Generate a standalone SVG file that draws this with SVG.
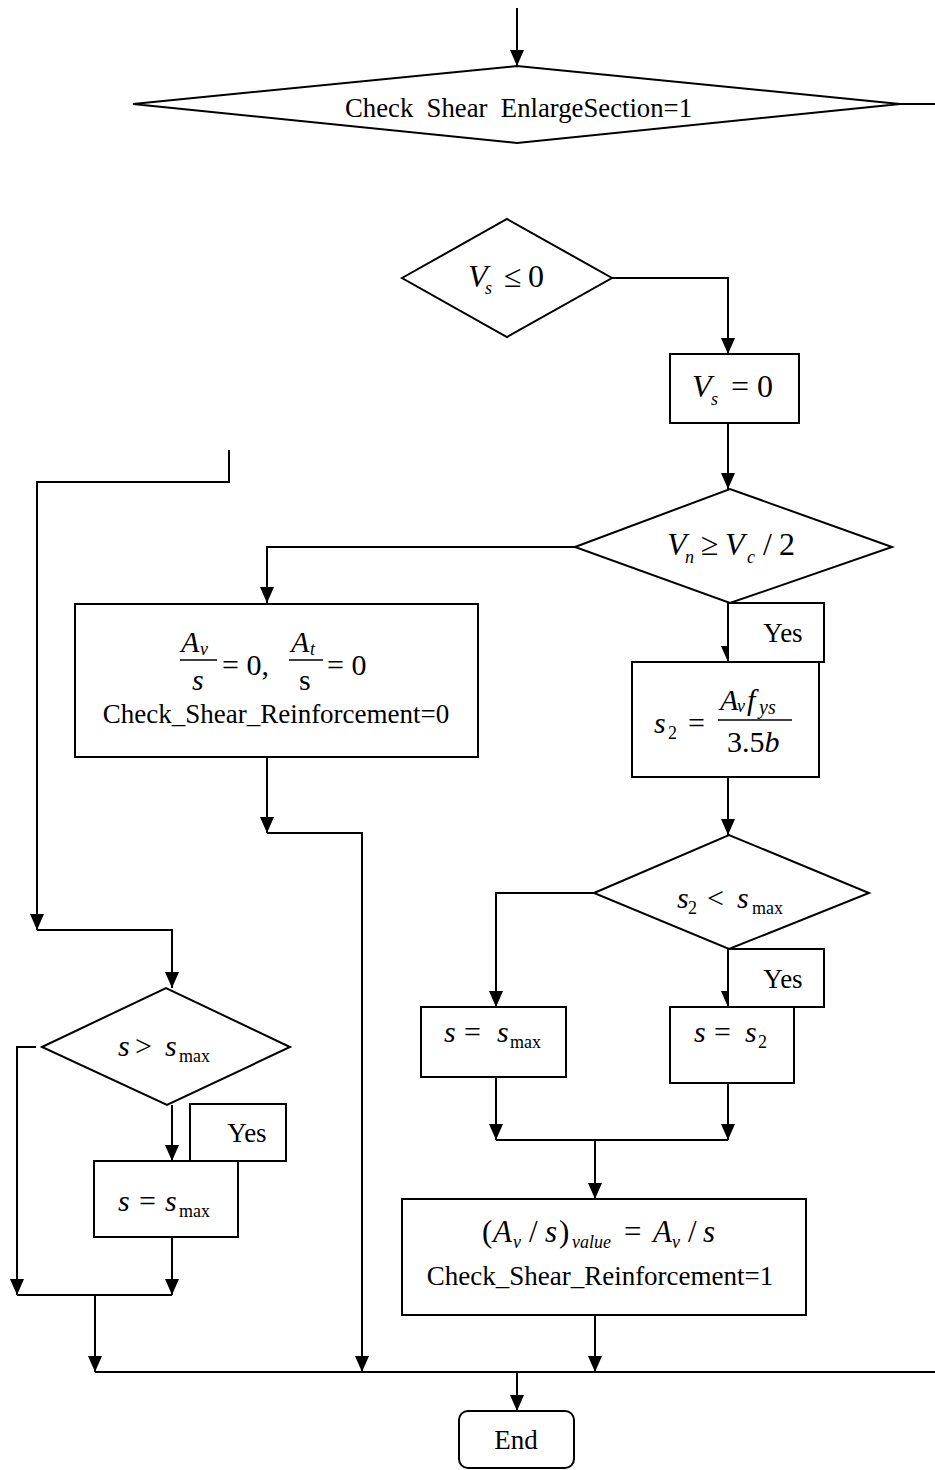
<svg xmlns="http://www.w3.org/2000/svg" width="935" height="1470" viewBox="0 0 935 1470" font-family="'Liberation Serif', 'Times New Roman', serif">
<style>
.n{fill:#fff;stroke:#000;stroke-width:2}
.c{fill:none;stroke:#000;stroke-width:2}
text{font-family:'Liberation Serif', 'Times New Roman', serif;fill:#000}
.t{font-size:27px}
.m{font-size:30px}
.i{font-style:italic}
.sb{font-size:18px}
</style>
<defs>
<marker id="a" viewBox="0 0 16 14" refX="16" refY="7" markerWidth="16" markerHeight="14" markerUnits="userSpaceOnUse" orient="auto">
<path d="M0,0 L16,7 L0,14 z" fill="#000"/>
</marker>
</defs>
<g id="connectors" class="c">
<path d="M517,8 V66" marker-end="url(#a)"/>
<path d="M900,104 H935"/>
<path d="M612,278 H728 V354" marker-end="url(#a)"/>
<path d="M728,423 V489" marker-end="url(#a)"/>
<path d="M575,547 H267 V603" marker-end="url(#a)"/>
<path d="M728,603 V662" marker-end="url(#a)"/>
<path d="M728,777 V835" marker-end="url(#a)"/>
<path d="M594,893 H496 V1007" marker-end="url(#a)"/>
<path d="M728,949 V1007" marker-end="url(#a)"/>
<path d="M496,1077 V1140" marker-end="url(#a)"/>
<path d="M728,1083 V1140" marker-end="url(#a)"/>
<path d="M496,1140 H728"/>
<path d="M595,1140 V1199" marker-end="url(#a)"/>
<path d="M595,1315 V1372" marker-end="url(#a)"/>
<path d="M95,1372 H935"/>
<path d="M517,1372 V1411" marker-end="url(#a)"/>
<path d="M267,757 V833" marker-end="url(#a)"/>
<path d="M267,833 H362 V1372" marker-end="url(#a)"/>
<path d="M229,450 V482 H37 V930" marker-end="url(#a)"/>
<path d="M37,930 H172 V988" marker-end="url(#a)"/>
<path d="M172,1105 V1161" marker-end="url(#a)"/>
<path d="M36,1047 H17 V1295" marker-end="url(#a)"/>
<path d="M172,1237 V1295" marker-end="url(#a)"/>
<path d="M17,1295 H172"/>
<path d="M95,1295 V1372" marker-end="url(#a)"/>
</g>
<g id="n1">
<polygon class="n" points="133,104 517,66 900,104 517,143"/>
<text x="345" y="117" font-size="28" textLength="347" lengthAdjust="spacingAndGlyphs" xml:space="preserve">Check  Shear  EnlargeSection=1</text>
</g>
<g id="n2">
<polygon class="n" points="402,278 507,219 612,278 507,337"/>
<text class="m" x="468" y="287" style="font-size:32px"><tspan class="i">V</tspan><tspan class="i sb" x="485" y="294">s</tspan><tspan x="504" y="287">≤</tspan><tspan x="528">0</tspan></text>
</g>
<g id="n3">
<rect class="n" x="670" y="354" width="129" height="69"/>
<text class="m" x="692" y="397" style="font-size:32px"><tspan class="i">V</tspan><tspan class="i sb" x="711" y="405">s</tspan><tspan x="731" y="397">=</tspan><tspan x="757">0</tspan></text>
</g>
<g id="n4">
<polygon class="n" points="575,547 730,489 892,547 730,603"/>
<text class="m" x="667" y="555" style="font-size:32px"><tspan class="i">V</tspan><tspan class="i sb" x="685" y="563">n</tspan><tspan x="701" y="555">≥</tspan><tspan class="i" x="725">V</tspan><tspan class="i sb" x="747" y="563">c</tspan><tspan x="763" y="555">/</tspan><tspan x="779">2</tspan></text>
</g>
<g id="n5">
<rect class="n" x="728" y="603" width="96" height="59"/>
<text class="t" x="783" y="642" text-anchor="middle">Yes</text>
</g>
<g id="n6">
<rect class="n" x="75" y="604" width="403" height="153"/>
<text class="m"><tspan class="i" x="181" y="652">A</tspan><tspan class="i sb" x="200" y="655">v</tspan><tspan class="i" x="192" y="690">s</tspan><tspan x="222" y="675">= 0,</tspan><tspan class="i" x="291" y="652">A</tspan><tspan class="i sb" x="310" y="655">t</tspan><tspan x="299" y="690">s</tspan><tspan x="327" y="675">= 0</tspan></text>
<path d="M180,660 H217 M289,660 H323" stroke="#000" stroke-width="1.5"/>
<text class="t" x="276" y="723" text-anchor="middle">Check_Shear_Reinforcement=0</text>
</g>
<g id="n7">
<rect class="n" x="632" y="662" width="187" height="115"/>
<text class="m"><tspan class="i" x="654" y="733">s</tspan><tspan class="sb" x="668" y="739">2</tspan><tspan x="688" y="733">=</tspan><tspan class="i" x="720" y="710">A</tspan><tspan class="i sb" x="737" y="712">v</tspan><tspan class="i" x="747" y="710">f</tspan><tspan class="i" style="font-size:20px" x="759" y="714">ys</tspan><tspan x="727" y="752">3.5</tspan><tspan class="i">b</tspan></text>
<path d="M718,720 H792" stroke="#000" stroke-width="1.5"/>
</g>
<g id="n8">
<polygon class="n" points="594,893 729,835 869,893 729,949"/>
<text class="m"><tspan class="i" x="677" y="908">s</tspan><tspan class="sb" x="688" y="914">2</tspan><tspan x="707" y="908">&lt;</tspan><tspan class="i" x="737">s</tspan><tspan class="sb" x="752" y="914">max</tspan></text>
</g>
<g id="n9">
<rect class="n" x="728" y="949" width="96" height="58"/>
<text class="t" x="783" y="988" text-anchor="middle">Yes</text>
</g>
<g id="n10">
<rect class="n" x="421" y="1007" width="145" height="70"/>
<text class="m"><tspan class="i" x="444" y="1042">s</tspan><tspan x="464">=</tspan><tspan class="i" x="497">s</tspan><tspan class="sb" x="510" y="1048">max</tspan></text>
</g>
<g id="n11">
<rect class="n" x="670" y="1007" width="124" height="76"/>
<text class="m"><tspan class="i" x="694" y="1042">s</tspan><tspan x="714">=</tspan><tspan class="i" x="745">s</tspan><tspan class="sb" x="758" y="1048">2</tspan></text>
</g>
<g id="n12">
<polygon class="n" points="42,1047 166,988 290,1047 167,1105"/>
<text class="m"><tspan class="i" x="118" y="1056">s</tspan><tspan x="135">&gt;</tspan><tspan class="i" x="165">s</tspan><tspan class="sb" x="179" y="1062">max</tspan></text>
</g>
<g id="n13">
<rect class="n" x="190" y="1104" width="96" height="57"/>
<text class="t" x="247" y="1142" text-anchor="middle">Yes</text>
</g>
<g id="n14">
<rect class="n" x="94" y="1161" width="144" height="76"/>
<text class="m"><tspan class="i" x="118" y="1211">s</tspan><tspan x="139">=</tspan><tspan class="i" x="165">s</tspan><tspan class="sb" x="179" y="1217">max</tspan></text>
</g>
<g id="n15">
<rect class="n" x="402" y="1199" width="404" height="116"/>
<text class="m" style="font-size:31px"><tspan x="482" y="1242">(</tspan><tspan class="i" x="493">A</tspan><tspan class="i sb" x="513" y="1248">v</tspan><tspan x="529" y="1242">/</tspan><tspan class="i" x="545">s</tspan><tspan x="559">)</tspan><tspan class="i sb" x="572" y="1248">value</tspan><tspan x="624" y="1242">=</tspan><tspan class="i" x="653">A</tspan><tspan class="i sb" x="672" y="1248">v</tspan><tspan x="688" y="1242">/</tspan><tspan class="i" x="703">s</tspan></text>
<text class="t" x="600" y="1285" text-anchor="middle">Check_Shear_Reinforcement=1</text>
</g>
<g id="n16">
<rect class="n" x="459" y="1411" width="115" height="57" rx="9"/>
<text class="t" x="516" y="1449" text-anchor="middle">End</text>
</g>
</svg>
